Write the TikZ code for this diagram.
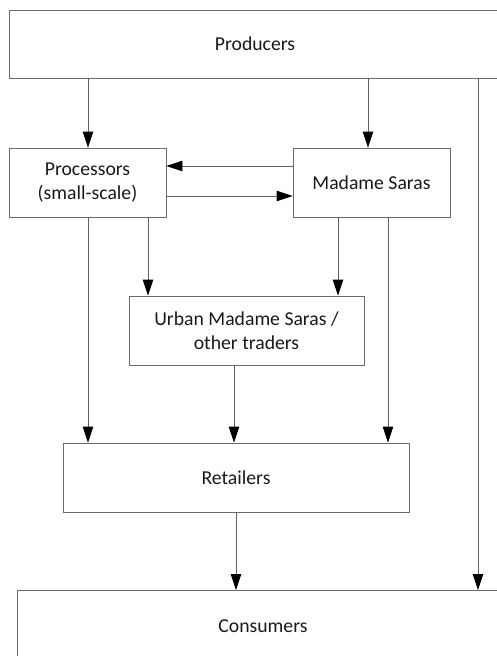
\documentclass[tikz,border=0pt]{standalone}
\usepackage{fontspec}
\setmainfont{Carlito}
\usetikzlibrary{arrows.meta}
\begin{document}
\begin{tikzpicture}[x=1pt,y=-1pt,
  box/.style={draw=black!58,line width=0.9pt,rectangle,inner sep=0pt,align=center,
    text=black!90,font=\fontsize{19.7}{24}\selectfont,minimum height=69pt},
  arr/.style={draw=black!62,line width=0.9pt,-{Triangle[length=16pt,width=10.5pt,color=black]}},
  ln/.style={draw=black!62,line width=0.9pt}]
\useasboundingbox (0,0) rectangle (497,656);
\node[box,minimum width=492pt,minimum height=68pt] (prod) at (255,44) {Producers};
\node[box,minimum width=157pt] (proc) at (87.5,182.5) {Processors\\(small-scale)};
\node[box,minimum width=157pt] (mad) at (371.5,182.5) {Madame Saras};
\node[box,minimum width=235pt] (urb) at (246.5,330.5) {Urban Madame Saras /\\other traders};
\node[box,minimum width=346pt] (ret) at (236,477.5) {Retailers};
\node[box,minimum width=492pt,minimum height=71pt] (cons) at (263,626) {Consumers};
\coordinate (xa) at (88,0);
\coordinate (xb) at (148,0);
\coordinate (xc) at (368,0);
\coordinate (xd) at (338,0);
\coordinate (xe) at (388,0);
\coordinate (xf) at (234,0);
\coordinate (xg) at (236,0);
\coordinate (xh) at (478,0);
\coordinate (ya) at (0,166);
\coordinate (yb) at (0,196);
\draw[arr] (prod.south -| xa) -- (proc.north -| xa);
\draw[arr] (prod.south -| xc) -- (mad.north -| xc);
\draw[arr] (mad.west |- ya) -- (proc.east |- ya);
\draw[arr] (proc.east |- yb) -- (mad.west |- yb);
\draw[arr] (proc.south -| xa) -- (ret.north -| xa);
\draw[arr] (proc.south -| xb) -- (urb.north -| xb);
\draw[arr] (mad.south -| xd) -- (urb.north -| xd);
\draw[arr] (mad.south -| xe) -- (ret.north -| xe);
\draw[arr] (urb.south -| xf) -- (ret.north -| xf);
\draw[arr] (ret.south -| xg) -- (cons.north -| xg);
\draw[arr] (prod.south -| xh) -- (cons.north -| xh);
\end{tikzpicture}
\end{document}
